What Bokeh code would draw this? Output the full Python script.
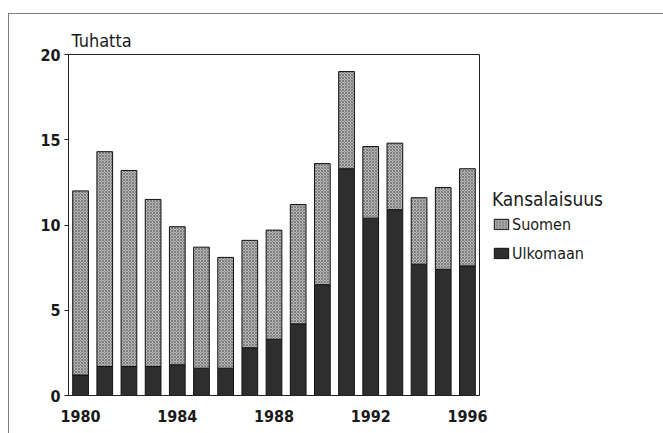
from bokeh.plotting import figure
from bokeh.models import ColumnDataSource, Legend, LegendItem, FixedTicker
from bokeh.embed import file_html
from bokeh.resources import INLINE

years = list(range(1980, 1997))
ulkomaan = [1.2, 1.7, 1.7, 1.7, 1.8, 1.6, 1.6, 2.8, 3.3, 4.2, 6.5, 13.3, 10.4, 10.9, 7.7, 7.4, 7.6]
suomen = [10.8, 12.6, 11.5, 9.8, 8.1, 7.1, 6.5, 6.3, 6.4, 7.0, 7.1, 5.7, 4.2, 3.9, 3.9, 4.8, 5.7]
x_ticks = [1980, 1984, 1988, 1992, 1996]
y_ticks = [0, 5, 10, 15, 20]

src = ColumnDataSource(dict(year=years, ulkomaan=ulkomaan, suomen=suomen))

FONT = "DejaVu Sans Condensed, Roboto"

p = figure(frame_width=411, frame_height=341, x_range=(1979.5, 1996.5), y_range=(0, 20),
           output_backend="svg", toolbar_location=None,
           min_border_left=60, min_border_right=174, min_border_top=41, min_border_bottom=38,
           title="Tuhatta",
           styles={"margin-left": "8px", "margin-top": "13px",
                   "outline": "1.5px solid #555555", "outline-offset": "-1px"})

p.title.text_font = FONT
p.title.text_font_size = "18px"
p.title.text_font_style = "normal"
p.title.text_color = "#1a1a1a"
p.title.align = "left"
p.title.offset = 3
p.title.standoff = 7

rs = p.vbar_stack(["ulkomaan", "suomen"], x="year", width=0.65, source=src,
                  fill_color=["#2e2e2e", "#b8b8b8"], line_color="#111111", line_width=1)
r_ulk, r_suo = rs
r_suo.glyph.hatch_pattern = "diagonal_cross"
r_suo.glyph.hatch_color = "#555555"
r_suo.glyph.hatch_scale = 3
r_suo.glyph.hatch_weight = 0.6

p.xgrid.visible = False
p.ygrid.visible = False
p.outline_line_color = "#222222"
p.outline_line_width = 1

p.xaxis.ticker = FixedTicker(ticks=x_ticks)
p.yaxis.ticker = FixedTicker(ticks=y_ticks)
for ax in (p.xaxis[0], p.yaxis[0]):
    ax.major_label_text_font = FONT
    ax.major_label_text_font_style = "bold"
    ax.major_label_text_font_size = "16px"
    ax.major_label_text_color = "#1a1a1a"
    ax.axis_line_color = "#222222"
    ax.minor_tick_line_color = None
    ax.major_tick_line_color = "#222222"
p.xaxis.major_tick_line_color = None
p.xaxis.major_label_standoff = 8
p.yaxis.major_tick_out = 4
p.yaxis.major_tick_in = 0
p.yaxis.major_label_standoff = 4

legend = Legend(items=[LegendItem(label="Suomen", renderers=[r_suo]),
                       LegendItem(label="Ulkomaan", renderers=[r_ulk])],
                location="center_left", title="Kansalaisuus",
                title_text_font=FONT, title_text_font_size="19px", title_text_font_style="normal",
                title_text_color="#1a1a1a", title_standoff=5,
                label_text_font=FONT, label_text_font_size="16px", label_text_color="#1a1a1a",
                glyph_width=18, glyph_height=13, label_standoff=2, spacing=10,
                padding=0, margin=13, border_line_color=None, background_fill_alpha=0)
p.add_layout(legend, "right")

open("out.html", "w").write(file_html(p, INLINE))
